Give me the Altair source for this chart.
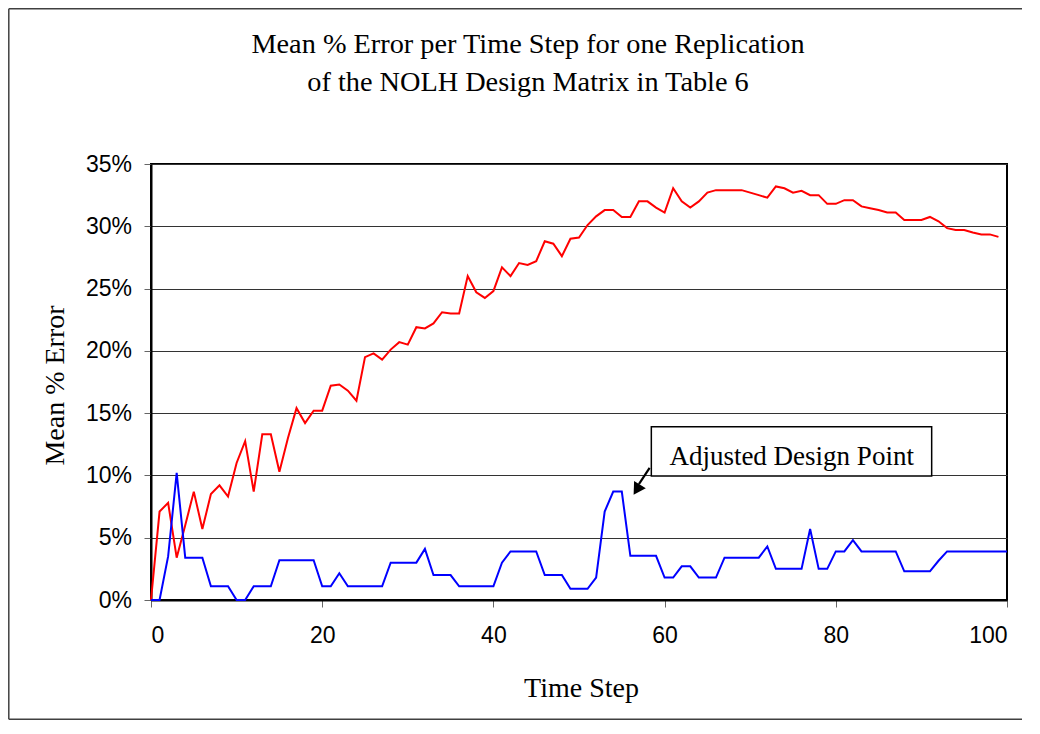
import altair as alt
import pandas as pd

# ---- data ----
red_values = [0, 7.1, 7.8, 3.4, 6.0, 8.7, 5.7, 8.5, 9.2, 8.3,
              11.0, 12.75, 8.7, 13.3, 13.3, 10.3, 13.0, 15.4, 14.2, 15.2,
              15.2, 17.2, 17.3, 16.8, 16.0, 19.5, 19.8, 19.3, 20.1, 20.7,
              20.5, 21.9, 21.8, 22.2, 23.1, 23.0, 23.0, 26.0, 24.7, 24.25,
              24.8, 26.7, 26.0, 27.05, 26.9, 27.2, 28.8, 28.6, 27.6, 29.0,
              29.1, 30.1, 30.8, 31.3, 31.3, 30.75, 30.75, 32.0, 32.0, 31.5,
              31.1, 33.05, 32.0, 31.5, 32.0, 32.7, 32.9, 32.9, 32.9, 32.9,
              32.7, 32.5, 32.3, 33.2, 33.05, 32.7, 32.85, 32.5, 32.5, 31.8,
              31.8, 32.1, 32.1, 31.6, 31.45, 31.3, 31.1, 31.1, 30.5, 30.5,
              30.5, 30.75, 30.4, 29.85, 29.7, 29.7, 29.5, 29.35, 29.35, 29.15]
blue_values = [0, 0, 3.5, 10.2, 3.4, 3.4, 3.4, 1.1, 1.1, 1.1,
               0, 0, 1.1, 1.1, 1.1, 3.2, 3.2, 3.2, 3.2, 3.2,
               1.1, 1.1, 2.15, 1.1, 1.1, 1.1, 1.1, 1.1, 3.0, 3.0,
               3.0, 3.0, 4.1, 2.0, 2.0, 2.0, 1.1, 1.1, 1.1, 1.1,
               1.1, 3.0, 3.9, 3.9, 3.9, 3.9, 2.0, 2.0, 2.0, 0.9,
               0.9, 0.9, 1.8, 7.1, 8.7, 8.7, 3.55, 3.55, 3.55, 3.55,
               1.8, 1.8, 2.7, 2.7, 1.8, 1.8, 1.8, 3.4, 3.4, 3.4,
               3.4, 3.4, 4.3, 2.5, 2.5, 2.5, 2.5, 5.7, 2.5, 2.5,
               3.9, 3.9, 4.8, 3.9, 3.9, 3.9, 3.9, 3.9, 2.3, 2.3,
               2.3, 2.3, 3.15, 3.9, 3.9, 3.9, 3.9, 3.9, 3.9, 3.9, 3.9]
red_steps = list(range(len(red_values)))
blue_steps = list(range(len(blue_values)))

y_ticks = [0, 5, 10, 15, 20, 25, 30, 35]
x_ticks = [0, 20, 40, 60, 80, 100]

title_lines = ["Mean % Error per Time Step for one Replication",
               "of the NOLH Design Matrix in Table 6"]
annotation_text = "Adjusted Design Point"
# annotation box / arrow (data units)
box = {"x": 58.45, "x2": 91.2, "y": 13.9, "y2": 9.95}
label_pos = {"x": 74.84, "y": 10.84}
arrow_line = {"x": 58.25, "y": 10.6, "x2": 57.0, "y2": 9.3}
arrow_head = {"x": 56.75, "y": 8.85}

red_df = pd.DataFrame({"step": red_steps, "err": red_values})
blue_df = pd.DataFrame({"step": blue_steps, "err": blue_values})

SERIF = "Liberation Serif"
SANS = "Liberation Sans"

x_scale = alt.Scale(domain=[0, 100], nice=False)
y_scale = alt.Scale(domain=[0, 35], nice=False)

x_axis = alt.Axis(values=x_ticks, title="Time Step", grid=False,
                  labelFont=SANS, labelFontSize=23, labelColor="black",
                  labelBaseline="alphabetic", labelPadding=35,
                  tickSize=7, tickColor="#666666", tickWidth=1,
                  domainColor="black", domainWidth=2,
                  titleFont=SERIF, titleFontSize=28, titleFontWeight="normal",
                  titleColor="black", titleBaseline="alphabetic",
                  titleX=430, titleY=96, titleAnchor="middle")
y_axis = alt.Axis(values=y_ticks, title="Mean % Error", grid=True,
                  gridColor="#333333", gridWidth=1,
                  labelExpr="datum.value + '%'",
                  labelFont=SANS, labelFontSize=23, labelColor="black",
                  labelPadding=12.5, labelBaseline="middle",
                  tickSize=7, tickColor="#666666", tickWidth=1,
                  domainColor="black", domainWidth=2,
                  titleFont=SERIF, titleFontSize=28, titleFontWeight="normal",
                  titleColor="black", titleBaseline="alphabetic",
                  titleX=-88, titleY=221, titleAngle=-90, titleAnchor="middle")

red_line = alt.Chart(red_df).mark_line(color="#FF0000", strokeWidth=2).encode(
    x=alt.X("step:Q", scale=x_scale, axis=x_axis),
    y=alt.Y("err:Q", scale=y_scale, axis=y_axis),
)
blue_line = alt.Chart(blue_df).mark_line(color="#0000FF", strokeWidth=2).encode(
    x=alt.X("step:Q", scale=x_scale),
    y=alt.Y("err:Q", scale=y_scale),
)

box_df = pd.DataFrame([box])
box_rect = alt.Chart(box_df).mark_rect(fill="white", stroke="black", strokeWidth=1.5).encode(
    x=alt.X("x:Q", scale=x_scale), x2="x2:Q",
    y=alt.Y("y:Q", scale=y_scale), y2="y2:Q",
)
label_df = pd.DataFrame([{**label_pos, "t": annotation_text}])
box_text = alt.Chart(label_df).mark_text(font=SERIF, fontSize=27, color="black",
                                          align="center", baseline="alphabetic").encode(
    x=alt.X("x:Q", scale=x_scale), y=alt.Y("y:Q", scale=y_scale), text="t:N",
)
arrow_df = pd.DataFrame([arrow_line])
arrow_rule = alt.Chart(arrow_df).mark_rule(color="black", strokeWidth=2.2).encode(
    x=alt.X("x:Q", scale=x_scale), x2="x2:Q",
    y=alt.Y("y:Q", scale=y_scale), y2="y2:Q",
)
head_df = pd.DataFrame([arrow_head])
arrow_tip = alt.Chart(head_df).mark_point(shape="triangle-up", filled=True, color="black",
                                           size=190, angle=212, opacity=1).encode(
    x=alt.X("x:Q", scale=x_scale), y=alt.Y("y:Q", scale=y_scale),
)

# chart title, two centred lines
title_df = pd.DataFrame({"line": title_lines, "base": [-111, -73]})
title_text = alt.Chart(title_df).mark_text(font=SERIF, fontSize=28.3, color="black",
                                            align="center", baseline="alphabetic").encode(
    x=alt.value(377), y=alt.Y("base:Q", scale=None), text="line:N",
)

# outer frame of the figure (top, left, bottom edges)
FR = dict(color="#404040", strokeWidth=1.5)
frame_top = alt.Chart(alt.Data(values=[{}])).mark_rule(**FR).encode(
    x=alt.value(-142.2), x2=alt.value(2000), y=alt.value(-155.2))
frame_left = alt.Chart(alt.Data(values=[{}])).mark_rule(**FR).encode(
    x=alt.value(-142.2), y=alt.value(-155.2), y2=alt.value(555.2))
frame_bottom = alt.Chart(alt.Data(values=[{}])).mark_rule(**FR).encode(
    x=alt.value(-142.2), x2=alt.value(2000), y=alt.value(555.2))

chart = alt.layer(frame_top, frame_left, frame_bottom, red_line, blue_line, box_rect,
                  box_text, arrow_rule, arrow_tip, title_text).properties(
    width=856, height=436,
    padding={"left": 143, "top": 156, "right": 15, "bottom": 120},
    autosize=alt.AutoSizeParams(type="none"),
    background="white",
).configure_view(stroke="black", strokeWidth=2)

chart.save("out.html", embed_options={"renderer": "svg", "actions": False})
